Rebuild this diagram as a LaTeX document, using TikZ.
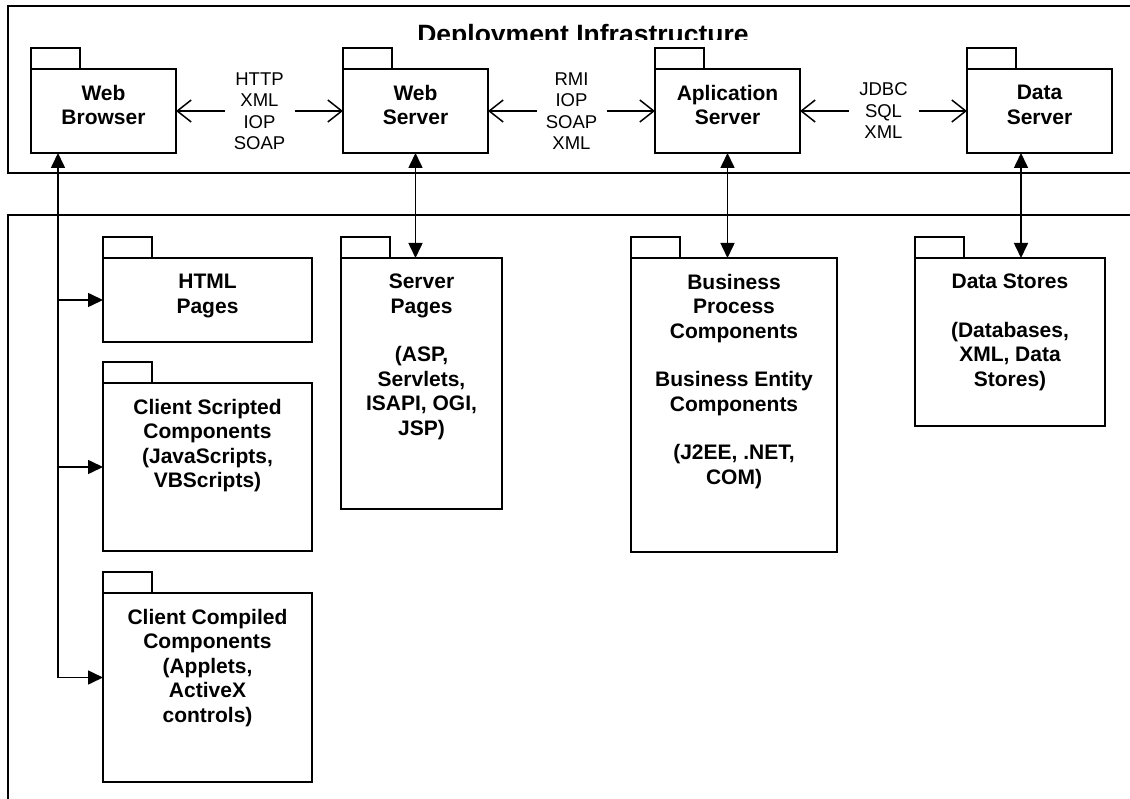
\documentclass[tikz,border=0pt]{standalone}
\usepackage{fontspec}
\setmainfont{Liberation Sans}
\usepackage{tikz}
\usetikzlibrary{arrows.meta}

\begin{document}
\begin{tikzpicture}[x=1pt,y=-1pt,>={Triangle[length=15pt,width=14pt]}]
\useasboundingbox (0,0) rectangle (1130,799);
\begin{scope}[node distance=0pt]

\tikzstyle{frame}=[draw=black,line width=1.8pt]
\tikzstyle{pkg}=[
	draw,
	line width=1.7pt,
	rectangle,
	anchor=north west,
	inner sep=0pt,
	outer sep=0pt
]
\tikzstyle{pkgtxt}=[
	font=\fontsize{21}{24.5}\selectfont\bfseries,
	align=center,
	anchor=north,
	inner xsep=0pt,
	inner ysep=16pt
]
\tikzstyle{proto}=[
	font=\fontsize{18.5}{21.5}\selectfont,
	align=center,
	fill=white,
	minimum width=70pt,
	inner xsep=9pt,
	inner ysep=2pt
]
\tikzstyle{link}=[line width=1.5pt,
	{Straight Barb[length=14pt,width=22pt]}-{Straight Barb[length=14pt,width=22pt]}]
\tikzstyle{call}=[line width=1.6pt]

%% FRAMES
\draw[frame] (8,6) rectangle (1145,173);
\draw[frame] (8,215) rectangle (1145,810);

\begin{scope}
\clip (8,6) rectangle (1130,40);
\node (title) [font=\fontsize{26.5}{30}\selectfont\bfseries,anchor=base] at (583,44) {Deployment Infrastructure};
\end{scope}

%% INFRASTRUCTURE
\node (wb) [pkg,minimum width=145pt,minimum height=84pt,
	label={[pkgtxt]north:{Web\\Browser}}] at (31,69) {};
\node (ws) [pkg,minimum width=145pt,minimum height=84pt,
	label={[pkgtxt]north:{Web\\Server}}] at (343,69) {};
\node (as) [pkg,minimum width=145pt,minimum height=84pt,
	label={[pkgtxt]north:{Aplication\\Server}}] at (655,69) {};
\node (ds) [pkg,minimum width=145pt,minimum height=84pt,
	label={[pkgtxt]north:{Data\\Server}}] at (967,69) {};

%% COMPONENTS
\node (html) [pkg,minimum width=209pt,minimum height=84pt,
	label={[pkgtxt]north:{HTML\\Pages}}] at (103,258) {};
\node (cs) [pkg,minimum width=209pt,minimum height=168pt,
	label={[pkgtxt]north:{Client Scripted\\Components\\(JavaScripts,\\VBScripts)}}] at (103,383) {};
\node (cc) [pkg,minimum width=209pt,minimum height=189pt,
	label={[pkgtxt]north:{Client Compiled\\Components\\(Applets,\\ActiveX\\controls)}}] at (103,593) {};
\node (sp) [pkg,minimum width=161pt,minimum height=251pt,
	label={[pkgtxt]north:{Server\\Pages\\[24pt](ASP,\\Servlets,\\ISAPI, OGI,\\JSP)}}] at (341,258) {};
\node (bp) [pkg,minimum width=206pt,minimum height=294pt,
	label={[pkgtxt]north:{Business\\Process\\Components\\[24pt]Business Entity\\Components\\[24pt](J2EE, .NET,\\COM)}}] at (631,258) {};
\node (dst) [pkg,minimum width=190pt,minimum height=168pt,
	label={[pkgtxt]north:{Data Stores\\[24pt](Databases,\\XML, Data\\Stores)}}] at (915,258) {};

% tabs
\foreach \p in {wb,ws,as,ds,html,cs,cc,sp,bp,dst}
	\draw[line width=1.7pt] (\p.north west) rectangle ++(49,-21);

%% PROTOCOLS
\draw[link] (wb.east) -- node[proto] (http) {HTTP\\XML\\IOP\\SOAP} (ws.west);
\draw[link] (ws.east) -- node[proto] (rmi) {RMI\\IOP\\SOAP\\XML} (as.west);
\draw[link] (as.east) -- node[proto] (jdbc) {JDBC\\SQL\\XML} (ds.west);

%% CALLS
\coordinate (bus) at ([xshift=27pt]wb.south west);
\coordinate (ccin) at ([yshift=10pt]cc.west);
\draw[call,<->] (bus) |- (ccin);
\draw[call,->] (bus |- html.west) -- (html.west);
\draw[call,->] (bus |- cs.west) -- (cs.west);

\draw[call,<->] (ws.south) -- (ws.south |- sp.north);
\draw[call,<->] (as.south) -- (as.south |- bp.north);
\coordinate (dsdown) at ([xshift=54pt]ds.south west);
\draw[call,<->] (dsdown) -- (dsdown |- dst.north);

\end{scope}
\end{tikzpicture}
\end{document}
